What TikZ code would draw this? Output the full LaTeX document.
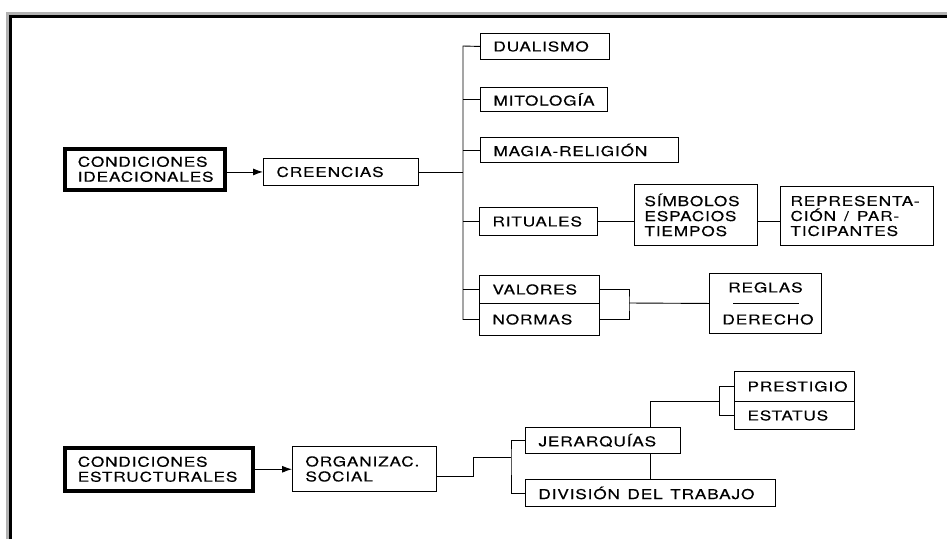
\documentclass[tikz,border=0pt]{standalone}
\usepackage{fontspec}
\setmainfont{TeX Gyre Heros}[FakeStretch=1.28,LetterSpace=6,FakeBold=0.4]
\usetikzlibrary{arrows.meta}

\tikzset{
	caja/.style={draw, line width=0.9pt, anchor=north west, inner xsep=13pt, inner ysep=0pt, align=left},
	condicion/.style={caja, line width=3.5pt},
	flecha/.style={-{Latex[length=10pt,width=7pt]}, line width=0.9pt},
}

\begin{document}
\begin{tikzpicture}[x=1pt, y=-1pt, line width=0.9pt, font=\fontsize{13.5}{15}\selectfont]
	\useasboundingbox (0,0) rectangle (947,539);
	% marco
	\draw[gray!60, line width=3pt] (7.5,539) -- (7.5,13.5) -- (947,13.5);
	\draw[line width=3pt] (10.5,539) -- (10.5,16.5) -- (947,16.5);

	% condiciones ideacionales
	\node[condicion, text width=134pt, minimum height=41pt] (ideac) at (63,147) {CONDICIONES\\IDEACIONALES};
	\node[caja, text width=129pt, minimum height=27pt] (creencias) at (263,158) {CREENCIAS};
	\node[caja, text width=103pt, minimum height=26pt] (dualismo) at (480,33) {DUALISMO};
	\node[caja, text width=101pt, minimum height=24pt] (mitologia) at (480,87) {MITOLOGÍA};
	\node[caja, text width=172pt, minimum height=25pt] (magia) at (480,137) {MAGIA-RELIGIÓN};
	\node[caja, text width=92pt, minimum height=28pt] (rituales) at (479,207) {RITUALES};
	\node[caja, inner xsep=10pt, text width=103pt, minimum height=61pt] (simbolos) at (634,184) {SÍMBOLOS\\ESPACIOS\\TIEMPOS};
	\node[caja, inner xsep=10pt, text width=133pt, minimum height=59pt] (represent) at (780,186) {REPRESENTA-\\CIÓN\hspace{8pt}/\hspace{8pt}PAR-\\TICIPANTES};
	\node[caja, text width=94pt, minimum height=28pt] (valores) at (479,275) {VALORES};
	\node[caja, text width=94pt, minimum height=32pt] (normas) at (479,303) {NORMAS};
	\node[caja, align=center, text width=86pt, minimum height=60pt] (reglas) at (709,273) {REGLAS\\[17pt]DERECHO};
	\coordinate (tronco) at (463,46);
	\coordinate (llave) at (629,303);

	\draw[flecha] (ideac.east |- creencias) -- (creencias.west);
	\draw (creencias.east) -- (creencias.east -| tronco);
	\draw (dualismo.west) -- (tronco) |- (normas.west);
	\foreach \n in {mitologia, magia, rituales, valores}
		\draw (\n.west) -- (\n.west -| tronco);
	\draw (rituales.east) -- (rituales.east -| simbolos.west);
	\draw (simbolos.east |- rituales) -- (represent.west |- rituales);
	\draw (valores.east) -| (llave) |- (normas.east);
	\draw (llave) -- (reglas.west);
	\draw ([xshift=24pt]reglas.west) -- ([xshift=-23pt]reglas.east);

	% condiciones estructurales
	\node[condicion, text width=162pt, minimum height=43pt] (estruct) at (63,446) {CONDICIONES\\ESTRUCTURALES};
	\node[caja, text width=118pt, minimum height=45pt] (org) at (292,446) {ORGANIZAC.\\SOCIAL};
	\node[caja, text width=129pt, minimum height=26pt] (jerarq) at (525,427) {JERARQUÍAS};
	\node[caja, text width=224pt, minimum height=27pt] (division) at (525,479) {DIVISIÓN\hspace{3pt} DEL\hspace{3pt} TRABAJO};
	\node[caja, text width=94pt, minimum height=30pt] (prestigio) at (734,371) {PRESTIGIO};
	\node[caja, text width=94pt, minimum height=28pt] (estatus) at (734,401) {ESTATUS};
	\coordinate (rama) at (511,457);
	\coordinate (llave2) at (719,401);

	\draw[flecha] (estruct.east) -- (estruct.east -| org.west);
	\draw ([yshift=-7.5pt]org.east) -- ++(37,0) |- (rama);
	\draw (jerarq.west) -| (rama) |- (division.west);
	\draw (jerarq.south -| division.north) -- (division.north);
	\draw (jerarq.north -| division.north) |- (llave2);
	\draw (prestigio.west) -| (llave2) |- (estatus.west);
\end{tikzpicture}
\end{document}
